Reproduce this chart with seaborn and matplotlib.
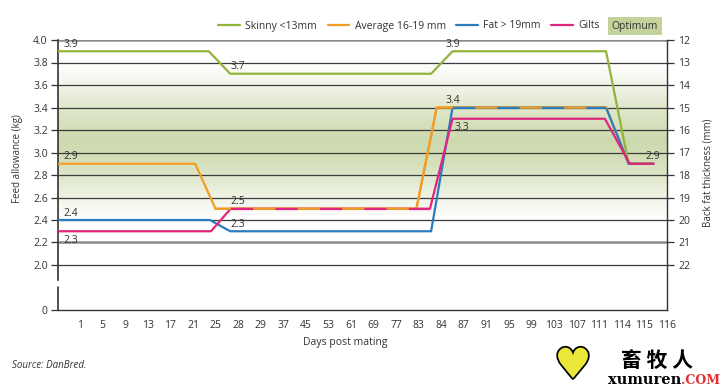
import numpy as np
import matplotlib
matplotlib.use("Agg")
import matplotlib.pyplot as plt
import matplotlib.patheffects as pe
from matplotlib.colors import LinearSegmentedColormap
from matplotlib.lines import Line2D
import seaborn as sns

# x axis categories (days post mating)
day_labels = ['1', '5', '9', '13', '17', '21', '25', '28', '29', '37', '45', '53', '61', '69',
              '77', '83', '84', '87', '91', '95', '99', '103', '107', '111', '114', '115', '116']

# series, x in category-position units
skinny_x = [0, 6.7, 7.65, 16.55, 17.5, 24.3, 25.3, 26.4]
skinny_y = [3.9, 3.9, 3.7, 3.7, 3.9, 3.9, 2.9, 2.9]
average_x = [0, 6.1, 7.0, 15.9, 16.8, 24.3, 25.3, 26.4]
average_y = [2.9, 2.9, 2.5, 2.5, 3.4, 3.4, 2.9, 2.9]
fat_x = [0, 6.75, 7.65, 16.55, 17.5, 24.3, 25.3, 26.4]
fat_y = [2.4, 2.4, 2.3, 2.3, 3.4, 3.4, 2.9, 2.9]
gilts_x = [0, 6.8, 7.67, 16.5, 17.5, 24.25, 25.35, 26.4]
gilts_y = [2.3, 2.3, 2.5, 2.5, 3.3, 3.3, 2.9, 2.9]

left_ticks = [2.0, 2.2, 2.4, 2.6, 2.8, 3.0, 3.2, 3.4, 3.6, 3.8, 4.0]
right_ticks = [12, 13, 14, 15, 16, 17, 18, 19, 20, 21, 22]

green = '#93b43c'
orange = '#f29d25'
blue = '#2b7dbf'
pink = '#e0267c'
txt = '#333333'

sns.set_style("white")
plt.rcParams['font.family'] = ['Open Sans', 'DejaVu Sans']
plt.rcParams['font.size'] = 7.5

fig = plt.figure(figsize=(7.27, 3.89), dpi=100)
ax = fig.add_axes([57.5/727, 1-310/389, 609.5/727, 270/389])
ax.set_xlim(0, 27)
ax.set_ylim(1.6, 4.0)

# optimum band (gradient)
cmap = LinearSegmentedColormap.from_list('opt', [
    (0.0, (1, 1, 1)), (0.14, (0.94, 0.955, 0.90)), (0.35, (0.84, 0.88, 0.74)),
    (0.5, (0.80, 0.85, 0.68)), (0.72, (0.88, 0.91, 0.80)), (0.86, (0.95, 0.96, 0.92)),
    (1.0, (1, 1, 1))])
grad = np.linspace(1, 0, 200).reshape(-1, 1)
ax.imshow(grad, cmap=cmap, extent=[0, 27, 2.4, 3.8], aspect='auto', zorder=0,
          vmin=0, vmax=1)

# grid lines
for v in left_ticks:
    if v in (2.2, 4.0):
        ax.axhline(v, color='#8a8a8a', lw=1.8, zorder=1)
    else:
        ax.axhline(v, color='#3c3c3c', lw=0.9, zorder=1)

lw = 1.6
sns.lineplot(x=skinny_x, y=skinny_y, color=green, lw=lw, ax=ax, sort=False, estimator=None, zorder=3)
sns.lineplot(x=average_x, y=average_y, color=orange, lw=lw, ax=ax, sort=False, estimator=None, zorder=3)
sns.lineplot(x=fat_x, y=fat_y, color=blue, lw=lw, ax=ax, sort=False, estimator=None, zorder=3)
sns.lineplot(x=gilts_x, y=gilts_y, color=pink, lw=lw, ax=ax, sort=False, estimator=None, zorder=3)

# overlapping flats drawn as alternating dashes
sns.lineplot(x=average_x[2:6], y=average_y[2:6], color=orange, lw=lw, ax=ax, sort=False, estimator=None, zorder=4)
sns.lineplot(x=gilts_x[2:4], y=gilts_y[2:4], color=pink, lw=lw, ax=ax, sort=False,
             estimator=None, zorder=5, linestyle=(0, (10, 10)))
sns.lineplot(x=fat_x[4:6], y=fat_y[4:6], color=blue, lw=lw, ax=ax, sort=False,
             estimator=None, zorder=5, linestyle=(0, (10, 10)))

# value labels
def lab(x, y, s, dx, above=True):
    ax.annotate(s, (x, y), xytext=(dx, 1 if above else -2.5), textcoords='offset points',
                ha='left', va='bottom' if above else 'top', color=txt, fontsize=7.5, zorder=6)

lab(skinny_x[0], skinny_y[0], '3.9', 4)
lab(skinny_x[2], skinny_y[2], '3.7', 0)
lab(skinny_x[4], skinny_y[4], '3.9', -5)
lab(average_x[0], average_y[0], '2.9', 4)
lab(fat_x[0], fat_y[0], '2.4', 4)
lab(fat_x[2], fat_y[2], '2.3', 0)
lab(fat_x[4], fat_y[4], '3.4', -5)
lab(gilts_x[0], gilts_y[0], '2.3', 4, above=False)
lab(gilts_x[2], gilts_y[2], '2.5', 0)
lab(gilts_x[4], gilts_y[4], '3.3', 1.5, above=False)
ax.annotate('2.9', (average_x[-1], average_y[-1]), xytext=(4.5, 1), textcoords='offset points',
            ha='right', va='bottom', color=txt, fontsize=7.5, zorder=6)

# axes / ticks
ax.set_xticks(range(0, 28))
ax.set_xticklabels([''] + day_labels)
ax.set_yticks([1.6] + left_ticks)
ax.set_yticklabels(['0'] + ['%.1f' % v for v in left_ticks])
ax.tick_params(axis='x', direction='inout', length=7, width=0.9, color='#333333',
               labelcolor=txt, labelsize=7.5, pad=4)
ax.tick_params(axis='y', direction='out', length=5, width=0.9, color='#333333',
               labelcolor=txt, labelsize=7.5, pad=2)
for s in ['top', 'right']:
    ax.spines[s].set_visible(False)
ax.spines['bottom'].set_color('#333333')
ax.spines['bottom'].set_linewidth(1.0)
ax.spines['left'].set_color('#333333')
ax.spines['left'].set_linewidth(1.2)
ax.spines['left'].set_bounds(1.867, 4.0)
ax.plot([0, 0], [1.6, 1.805], color='#333333', lw=1.2, clip_on=False, zorder=6)
ax.set_xlabel('')
ax.set_ylabel('Feed allowance (kg)', color=txt, fontsize=7)
ax.yaxis.set_label_coords(-0.056, 0.56)

ax2 = ax.twinx()
ax2.set_ylim(24, 12)
ax2.set_yticks(right_ticks)
ax2.set_yticklabels([str(t) for t in right_ticks])
ax2.tick_params(axis='y', direction='out', length=5, width=0.9, color='#333333',
                labelcolor=txt, labelsize=7.5, pad=3)
for s in ['top', 'left', 'bottom']:
    ax2.spines[s].set_visible(False)
ax2.spines['right'].set_color('#333333')
ax2.spines['right'].set_linewidth(1.0)
ax2.set_ylabel('Back fat thickness (mm)', color=txt, fontsize=7, rotation=90)
ax2.yaxis.set_label_coords(1.058, 0.51)

fig.text(345/727, 1-343/389, 'Days post mating', ha='center', va='center', color=txt, fontsize=7.5)
fig.text(12/727, 1-366/389, 'Source: DanBred.', ha='left', va='center', color=txt,
         fontsize=7, style='italic')

# legend
handles = [Line2D([], [], color=green, lw=lw), Line2D([], [], color=orange, lw=lw),
           Line2D([], [], color=blue, lw=lw), Line2D([], [], color=pink, lw=lw)]
names = ['Skinny <13mm', 'Average 16-19 mm', 'Fat > 19mm', 'Gilts']
leg = fig.legend(handles, names, loc='center', bbox_to_anchor=(409/727, 1-26/389), ncol=4,
                 frameon=False, handlelength=2.1, handletextpad=0.5, columnspacing=1.0,
                 fontsize=7.5, borderaxespad=0, borderpad=0)
for t in leg.get_texts():
    t.set_color(txt)
fig.text(635/727, 1-26/389, 'Optimum', ha='center', va='center', color=txt, fontsize=7.5,
         bbox=dict(facecolor='#c4d39b', edgecolor='none', pad=2.8))

# watermark
fig.text(573/727, 1-366/389, '\u2665', ha='center', va='center', fontsize=30, color='#ece83a',
         family='DejaVu Sans',
         path_effects=[pe.withStroke(linewidth=2.5, foreground='black')])
fig.text(657/727, 1-360/389, '畜 牧 人', ha='center', va='center', fontsize=15, weight='bold',
         color='black', family=['Noto Sans CJK SC', 'DejaVu Sans'])
fig.text(681/727, 1-380/389, 'xumuren', ha='right', va='center', fontsize=10.5, weight='bold',
         color='black', family='DejaVu Serif')
fig.text(681/727, 1-380/389, '.COM', ha='left', va='center', fontsize=9, weight='bold',
         color='#e03030', family='DejaVu Serif')

fig.savefig('out.png', dpi=100)
